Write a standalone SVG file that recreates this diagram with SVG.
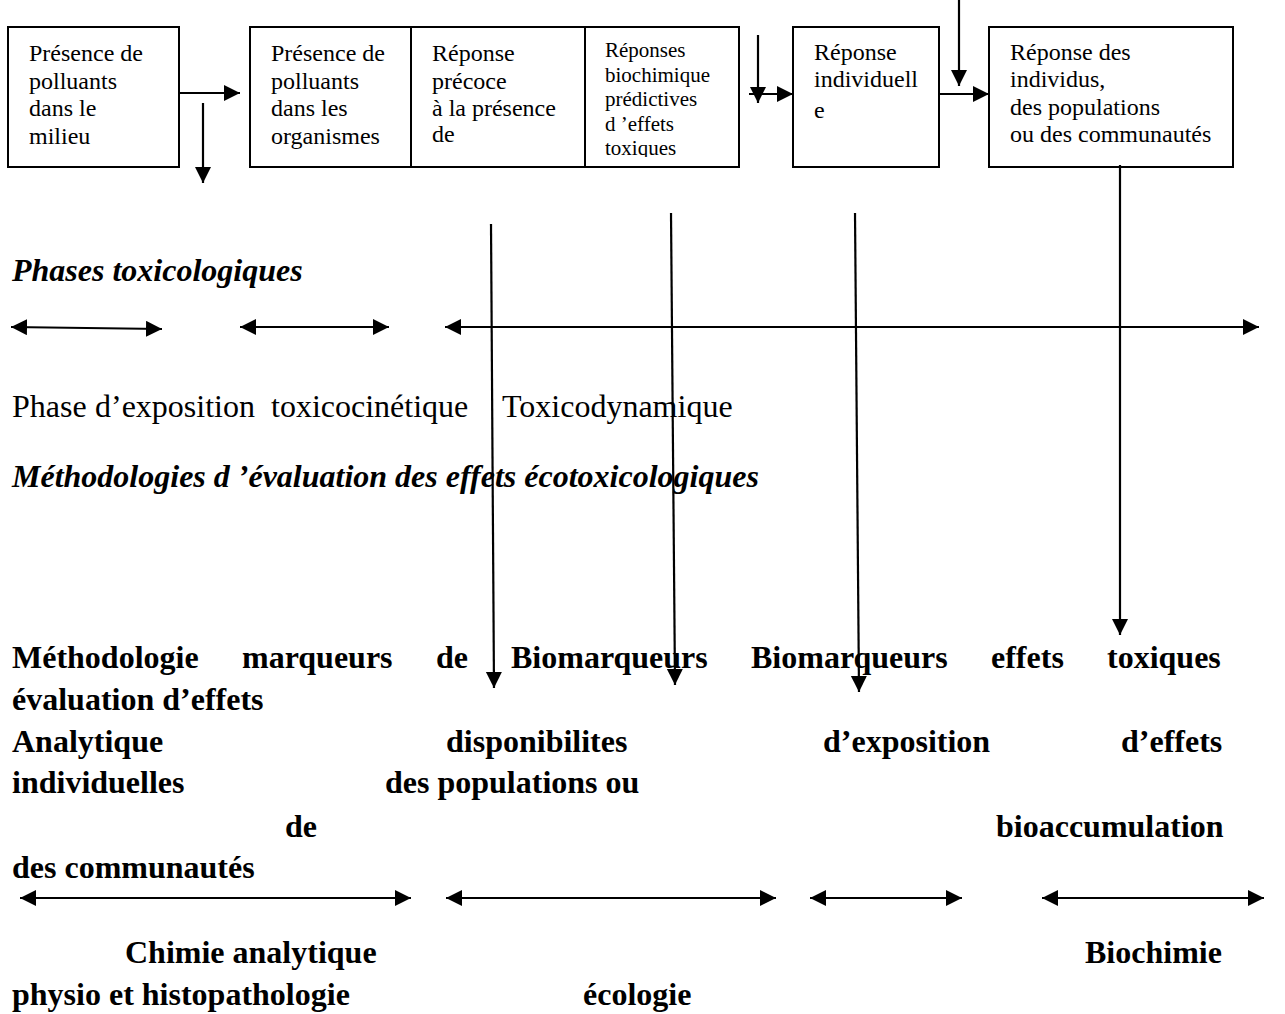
<svg xmlns="http://www.w3.org/2000/svg" width="1285" height="1014" viewBox="0 0 1285 1014">
<style>
.box{fill:#fff;stroke:#000;stroke-width:2}
.bt{font-family:"Liberation Serif","Times New Roman",serif;font-size:24px;fill:#000}
.bs{font-family:"Liberation Serif","Times New Roman",serif;font-size:21px;fill:#000}
.ln{stroke:#000;stroke-width:2.2;fill:none}
.h{font-family:"Liberation Serif","Times New Roman",serif;font-size:32px;font-weight:bold;font-style:italic;fill:#000}
.r{font-family:"Liberation Serif","Times New Roman",serif;font-size:32px;fill:#000}
.b{font-family:"Liberation Serif","Times New Roman",serif;font-size:32px;font-weight:bold;fill:#000}
</style>
<defs>
<marker id="ah" markerUnits="userSpaceOnUse" markerWidth="18" markerHeight="18" refX="16" refY="8" orient="auto">
<path d="M0,0 L16,8 L0,16 Z" fill="#000"/>
</marker>
<marker id="as" markerUnits="userSpaceOnUse" markerWidth="18" markerHeight="18" refX="16" refY="8" orient="auto-start-reverse">
<path d="M0,0 L16,8 L0,16 Z" fill="#000"/>
</marker>
<clipPath id="c3"><rect x="586" y="28" width="152" height="129"/></clipPath>
</defs>

<g id="n1">
<rect class="box" x="8" y="27" width="171" height="140"/>
<text class="bt"><tspan x="29" y="61">Présence de</tspan><tspan x="29" y="89">polluants</tspan><tspan x="29" y="116">dans le</tspan><tspan x="29" y="144">milieu</tspan></text>
</g>
<g id="n2">
<rect class="box" x="250" y="27" width="161" height="140"/>
<text class="bt"><tspan x="271" y="61">Présence de</tspan><tspan x="271" y="89">polluants</tspan><tspan x="271" y="116">dans les</tspan><tspan x="271" y="144">organismes</tspan></text>
</g>
<g id="n3">
<rect class="box" x="411" y="27" width="174" height="140"/>
<text class="bt"><tspan x="432" y="61">Réponse</tspan><tspan x="432" y="89">précoce</tspan><tspan x="432" y="116">à la présence</tspan><tspan x="432" y="142">de</tspan></text>
</g>
<g id="n4">
<rect class="box" x="585" y="27" width="154" height="140"/>
<text class="bs" clip-path="url(#c3)"><tspan x="605" y="57">Réponses</tspan><tspan x="605" y="82">biochimique</tspan><tspan x="605" y="106">prédictives</tspan><tspan x="605" y="131">d ’effets</tspan><tspan x="605" y="155">toxiques</tspan></text>
</g>
<g id="n5">
<rect class="box" x="793" y="27" width="146" height="140"/>
<text class="bt"><tspan x="814" y="60">Réponse</tspan><tspan x="814" y="87">individuell</tspan><tspan x="814" y="118">e</tspan></text>
</g>
<g id="n6">
<rect class="box" x="989" y="27" width="244" height="140"/>
<text class="bt"><tspan x="1010" y="60">Réponse des</tspan><tspan x="1010" y="87">individus,</tspan><tspan x="1010" y="115">des populations</tspan><tspan x="1010" y="142">ou des communautés</tspan></text>
</g>

<g id="connectors">
<line class="ln" x1="179" y1="93" x2="240" y2="93" marker-end="url(#ah)"/>
<line class="ln" x1="203" y1="103" x2="203" y2="183" marker-end="url(#ah)"/>
<line class="ln" x1="758" y1="35" x2="758" y2="103" marker-end="url(#ah)"/>
<line class="ln" x1="749" y1="94" x2="793" y2="94" marker-end="url(#ah)"/>
<line class="ln" x1="959" y1="0" x2="959" y2="86" marker-end="url(#ah)"/>
<line class="ln" x1="939" y1="94" x2="989" y2="94" marker-end="url(#ah)"/>
<line class="ln" x1="1120" y1="165" x2="1120" y2="635" marker-end="url(#ah)"/>
<line class="ln" x1="491" y1="224" x2="494" y2="688" marker-end="url(#ah)"/>
<line class="ln" x1="671" y1="213" x2="675" y2="685" marker-end="url(#ah)"/>
<line class="ln" x1="855" y1="213" x2="859" y2="692" marker-end="url(#ah)"/>
<line class="ln" x1="11" y1="327" x2="162" y2="329" marker-start="url(#as)" marker-end="url(#as)"/>
<line class="ln" x1="240" y1="327" x2="389" y2="327" marker-start="url(#as)" marker-end="url(#as)"/>
<line class="ln" x1="445" y1="327" x2="1259" y2="327" marker-start="url(#as)" marker-end="url(#as)"/>
<line class="ln" x1="20" y1="898" x2="411" y2="898" marker-start="url(#as)" marker-end="url(#as)"/>
<line class="ln" x1="446" y1="898" x2="776" y2="898" marker-start="url(#as)" marker-end="url(#as)"/>
<line class="ln" x1="810" y1="898" x2="962" y2="898" marker-start="url(#as)" marker-end="url(#as)"/>
<line class="ln" x1="1042" y1="898" x2="1264" y2="898" marker-start="url(#as)" marker-end="url(#as)"/>
</g>

<g id="labels">
<text class="h" x="12" y="281">Phases toxicologiques</text>
<text class="r" y="417"><tspan x="12">Phase</tspan><tspan x="95">d’exposition</tspan><tspan x="271">toxicocinétique</tspan><tspan x="502">Toxicodynamique</tspan></text>
<text class="h" x="12" y="487">Méthodologies d ’évaluation des effets écotoxicologiques</text>
<text class="b" y="668"><tspan x="12">Méthodologie</tspan><tspan x="242">marqueurs</tspan><tspan x="436">de</tspan><tspan x="511">Biomarqueurs</tspan><tspan x="751">Biomarqueurs</tspan><tspan x="991">effets</tspan><tspan x="1107">toxiques</tspan></text>
<text class="b" x="12" y="710">évaluation d’effets</text>
<text class="b" y="752"><tspan x="12">Analytique</tspan><tspan x="446">disponibilites</tspan><tspan x="823">d’exposition</tspan><tspan x="1121">d’effets</tspan></text>
<text class="b" y="793"><tspan x="12">individuelles</tspan><tspan x="385">des populations ou</tspan></text>
<text class="b" y="837"><tspan x="285">de</tspan><tspan x="996">bioaccumulation</tspan></text>
<text class="b" x="12" y="878">des communautés</text>
<text class="b" y="963"><tspan x="125">Chimie analytique</tspan><tspan x="1085">Biochimie</tspan></text>
<text class="b" y="1005"><tspan x="12">physio et histopathologie</tspan><tspan x="583">écologie</tspan></text>
</g>
</svg>
